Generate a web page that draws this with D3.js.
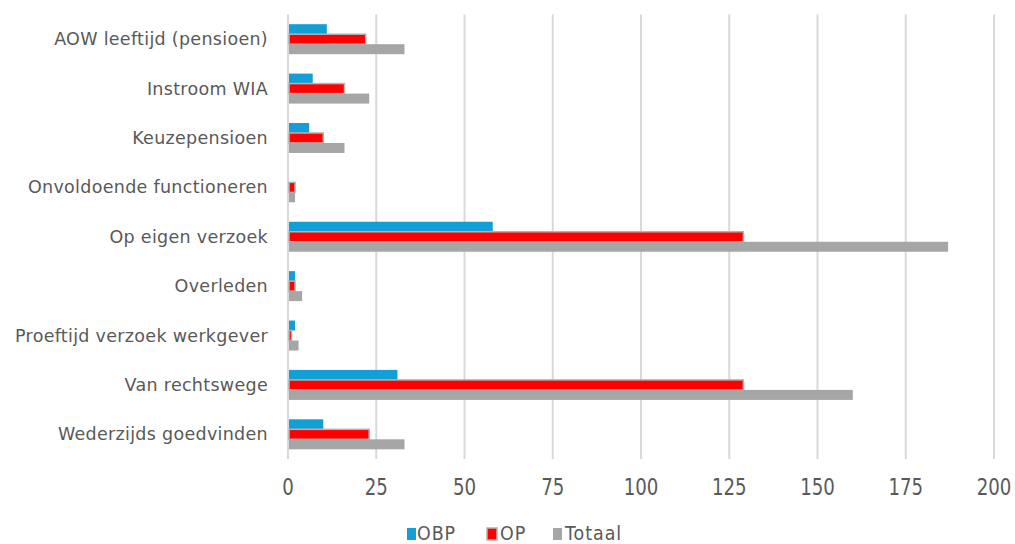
<!DOCTYPE html>
<html>
<head>
<meta charset="utf-8">
<script src="https://cdn.jsdelivr.net/npm/d3@7"></script>
<style>
  html, body { margin: 0; padding: 0; background: #fff; }
  svg { display: block; }
</style>
</head>
<body>
<svg id="chart" width="1015" height="544"></svg>
<script>
const categories = [
  "AOW leeftijd (pensioen)",
  "Instroom WIA",
  "Keuzepensioen",
  "Onvoldoende functioneren",
  "Op eigen verzoek",
  "Overleden",
  "Proeftijd verzoek werkgever",
  "Van rechtswege",
  "Wederzijds goedvinden"
];
const seriesNames = ["OBP", "OP", "Totaal"];
const obpValues = [11, 7, 6, 0, 58, 2, 2, 31, 10];
const opValues = [22, 16, 10, 2, 129, 2, 1, 129, 23];
const totaalValues = [33, 23, 16, 2, 187, 4, 3, 160, 33];
const xTicks = [0, 25, 50, 75, 100, 125, 150, 175, 200];

(function () {
const colors = { OBP: "#119fd6", OP: "#ff0000", Totaal: "#a6a6a6" };
const seriesValues = { OBP: obpValues, OP: opValues, Totaal: totaalValues };

const svg = d3.select("#chart");
const pLeft = 288, pRight = 994, pTop = 14.5, pBottom = 459;
const textColor = "#595959";

const x = d3.scaleLinear().domain([0, 200]).range([pLeft, pRight]);
const y = d3.scaleBand().domain(categories).range([pTop, pBottom]).paddingInner(0.393).paddingOuter(0.1965);
const ySub = d3.scaleBand().domain(seriesNames).range([0, y.bandwidth()]);

// gridlines
svg.append("g").selectAll("line").data(xTicks).join("line")
  .attr("x1", d => x(d)).attr("x2", d => x(d))
  .attr("y1", pTop).attr("y2", pBottom)
  .attr("stroke", "#d9d9d9").attr("stroke-width", 2);

// bars
const groups = svg.append("g").selectAll("g").data(categories).join("g")
  .attr("transform", d => `translate(0,${y(d)})`);

seriesNames.forEach(s => {
  groups.append("rect")
    .attr("x", x(0) + 1)
    .attr("y", () => ySub(s))
    .attr("width", (d, i) => Math.max(0, x(seriesValues[s][i]) - x(0) - 1))
    .attr("height", ySub.bandwidth())
    .attr("fill", colors[s])
    .attr("stroke", s === "OP" ? "#b3b3b3" : "none")
    .attr("stroke-width", s === "OP" ? 1.5 : 0);
});

// category labels
svg.append("g").selectAll("text").data(categories).join("text")
  .attr("x", 268)
  .attr("y", d => y(d) + y.bandwidth() / 2)
  .attr("text-anchor", "end")
  .attr("dominant-baseline", "central")
  .attr("font-family", "DejaVu Sans, sans-serif")
  .attr("font-size", 17.5)
  .attr("letter-spacing", 0.3)
  .attr("fill", textColor)
  .text(d => d);

// x tick labels (condensed look)
svg.append("g").selectAll("text").data(xTicks).join("text")
  .attr("transform", d => `translate(${x(d)},495) scale(0.79,1)`)
  .attr("text-anchor", "middle")
  .attr("font-family", "DejaVu Sans, sans-serif")
  .attr("font-size", 23)
  .attr("fill", textColor)
  .text(d => d);

// legend
const legendItems = [
  { name: "OBP", sx: 407, tx: 417 },
  { name: "OP", sx: 487, tx: 500 },
  { name: "Totaal", sx: 553, tx: 565 }
];
const lg = svg.append("g");
legendItems.forEach(it => {
  lg.append("rect")
    .attr("x", it.sx).attr("y", 528)
    .attr("width", it.name === "OP" ? 10 : 9).attr("height", 12)
    .attr("fill", colors[it.name])
    .attr("stroke", it.name === "OP" ? "#b3b3b3" : "none")
    .attr("stroke-width", it.name === "OP" ? 1.5 : 0);
  lg.append("text")
    .attr("transform", `translate(${it.tx},540) scale(0.92,1)`)
    .attr("font-family", "DejaVu Sans, sans-serif")
    .attr("font-size", 19)
    .attr("letter-spacing", 1)
    .attr("fill", textColor)
    .text(it.name);
});
})();
</script>
</body>
</html>
